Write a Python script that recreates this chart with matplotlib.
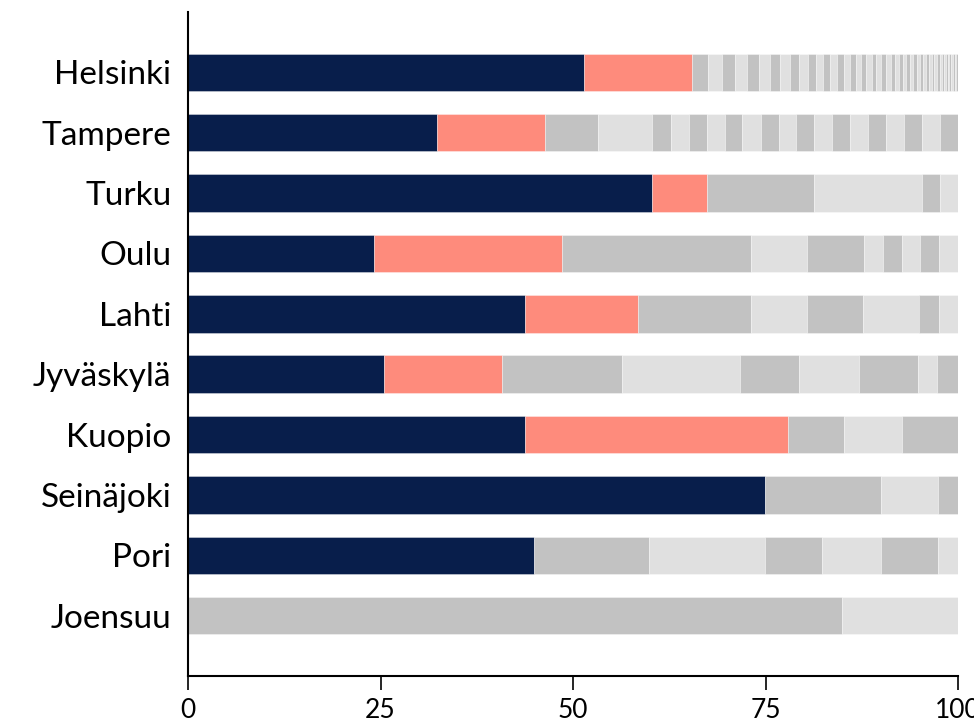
import matplotlib
matplotlib.use("Agg")
import matplotlib.pyplot as plt

plt.rcParams['font.family'] = ['Lato', 'DejaVu Sans']

cities = ["Helsinki", "Tampere", "Turku", "Oulu", "Lahti",
          "Jyväskylä", "Kuopio", "Seinäjoki", "Pori", "Joensuu"]
navy = [51.4, 32.3, 60.3, 24.2, 43.8, 25.5, 43.8, 74.9, 44.9, 0]
salmon = [14.1, 14.1, 7.1, 24.4, 14.6, 15.3, 34.1, 0, 0, 0]
# remaining share, alternating dark / light grey
rest = [
    [2.0, 1.8, 1.7, 1.65, 1.55, 1.35, 1.3, 1.3, 1.15, 1.2, 1.1, 0.9, 0.9, 0.95,
     0.85, 0.76, 0.74, 0.7, 0.7, 0.7, 0.6, 0.6, 0.6, 0.7, 0.5, 0.6, 0.5, 0.4,
     0.5, 0.4, 0.5, 0.4, 0.4, 0.4, 0.3, 0.4, 0.3, 0.4, 0.3, 0.3,
     0.25, 0.25, 0.24, 0.24, 0.23, 0.23, 0.22, 0.22, 0.22],
    [6.9, 7.0, 2.4, 2.35, 2.35, 2.3, 2.3, 2.4, 2.3, 2.3, 2.3, 2.4, 2.3, 2.3,
     2.3, 2.4, 2.3, 2.3, 2.4],
    [13.9, 14.0, 2.3, 2.4],
    [24.5, 7.3, 7.4, 2.4, 2.5, 2.4, 2.4, 2.5],
    [14.7, 7.3, 7.3, 7.3, 2.5, 2.5],
    [15.5, 15.4, 7.6, 7.8, 7.7, 2.5, 2.7],
    [7.3, 7.5, 7.3],
    [15.1, 7.4, 2.6],
    [15.0, 15.0, 7.5, 7.6, 7.4, 2.6],
    [84.9, 15.1],
]

NAVY, SALMON, GREYS = "#081e4b", "#fe8b7c", ["#c2c2c2", "#e0e0e0"]
edge = (1, 1, 1, 0.5)

fig = plt.figure(figsize=(9.74, 7.25), dpi=100)
ax = fig.add_axes([188/974, 1-676/725, (958-188)/974, (676-12)/725])
h = 0.62
for i, c in enumerate(cities):
    left = 0
    if navy[i]:
        ax.barh(i, navy[i], left=left, height=h, color=NAVY, edgecolor=edge, linewidth=0.5)
        left += navy[i]
    if salmon[i]:
        ax.barh(i, salmon[i], left=left, height=h, color=SALMON, edgecolor=edge, linewidth=0.5)
        left += salmon[i]
    for j, w in enumerate(rest[i]):
        ax.barh(i, w, left=left, height=h, color=GREYS[j % 2], edgecolor=edge, linewidth=0.5)
        left += w

ax.set_ylim(len(cities), -1)
ax.set_xlim(0, 100)
ax.set_yticks(range(len(cities)))
ax.set_yticklabels(cities, fontsize=24)
ax.set_xticks([0, 25, 50, 75, 100])
ax.tick_params(axis="y", length=0, pad=12)
ax.tick_params(axis="x", length=10, width=1.2, pad=6, labelsize=19)
for s in ["top", "right"]:
    ax.spines[s].set_visible(False)
for s in ["left", "bottom"]:
    ax.spines[s].set_linewidth(1.5)

fig.savefig("out.png", dpi=100)
